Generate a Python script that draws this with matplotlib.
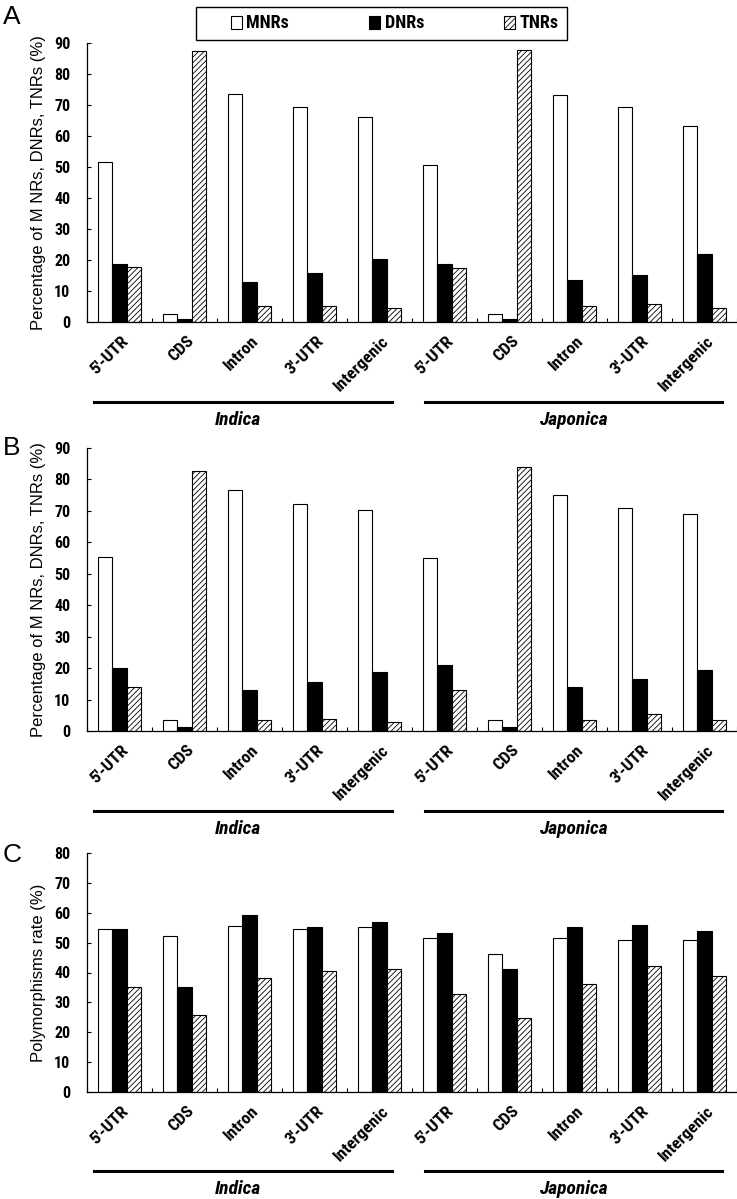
import matplotlib
matplotlib.use("Agg")
import matplotlib.pyplot as plt
import numpy as np
from matplotlib.patches import Patch, Rectangle
from matplotlib.lines import Line2D

plt.rcParams['hatch.linewidth'] = 0.6

categories = ["5'-UTR", "CDS", "Intron", "3'-UTR", "Intergenic"] * 2
groups = ["Indica", "Japonica"]
series = ["MNRs", "DNRs", "TNRs"]

a_mnr = [51.5, 2.7, 73.5, 69.4, 66.0, 50.6, 2.7, 73.1, 69.4, 63.2]
a_dnr = [18.8, 1.0, 13.0, 15.8, 20.2, 18.8, 1.0, 13.4, 15.2, 22.0]
a_tnr = [17.9, 87.4, 5.3, 5.3, 4.4, 17.5, 87.9, 5.3, 5.9, 4.4]

b_mnr = [55.4, 3.5, 76.6, 72.2, 70.4, 54.9, 3.5, 75.2, 70.9, 69.1]
b_dnr = [20.0, 1.4, 12.9, 15.5, 18.7, 20.9, 1.4, 13.9, 16.4, 19.5]
b_tnr = [13.9, 82.8, 3.5, 3.9, 3.0, 12.9, 84.1, 3.5, 5.3, 3.5]

c_mnr = [54.7, 52.2, 55.7, 54.7, 55.1, 51.5, 46.2, 51.5, 50.9, 50.9]
c_dnr = [54.7, 35.0, 59.4, 55.2, 57.0, 53.2, 41.1, 55.2, 56.0, 53.8]
c_tnr = [35.0, 25.7, 38.3, 40.6, 41.1, 32.8, 24.8, 36.0, 42.1, 38.8]

W, H = 737, 1199
fig = plt.figure(figsize=(W / 100, H / 100), dpi=100)

narrow = ['Roboto Condensed', 'PT Sans Narrow', 'DejaVu Sans']
regular = ['Liberation Sans', 'DejaVu Sans']


def ax_rect(top_px, bottom_px, left_px=87, right_px=737):
    return [left_px / W, 1 - bottom_px / H, (right_px - left_px) / W, (bottom_px - top_px) / H]


def draw_panel(rect, mnr, dnr, tnr, ymax, ylabel, letter, letter_y, line_y, label_y):
    ax = fig.add_axes(rect)
    n = len(categories)
    x = np.arange(n)
    bw = 0.225
    ax.bar(x + 0.5 - bw, mnr, bw, color='white', edgecolor='black', linewidth=0.8)
    ax.bar(x + 0.5, dnr, bw, color='black', edgecolor='black', linewidth=0.8)
    ax.bar(x + 0.5 + bw, tnr, bw, color='white', edgecolor='black', hatch='//////', linewidth=0.8)
    ax.set_xlim(0, n)
    ax.set_ylim(0, ymax)
    ax.set_yticks(np.arange(0, ymax + 1, 10))
    for lab in ax.get_yticklabels():
        lab.set_fontfamily(narrow)
        lab.set_fontweight('bold')
        lab.set_fontsize(11.5)
    ax.set_xticks(np.arange(0, n + 1))
    ax.set_xticklabels([])
    ax.tick_params(axis='x', direction='in', length=3, width=0.8)
    ax.tick_params(axis='y', direction='in', length=3, width=0.8, pad=12)
    ax.spines['top'].set_visible(False)
    ax.spines['right'].set_visible(False)
    ax.spines['left'].set_linewidth(0.9)
    ax.spines['bottom'].set_linewidth(0.9)
    ax.set_ylabel(ylabel, fontsize=12, family=regular, labelpad=6)
    for i, c in enumerate(categories):
        ax.annotate(c, xy=(i + 0.52, 0), xycoords=('data', 'axes fraction'),
                    xytext=(0, -8), textcoords='offset points',
                    rotation=45, ha='right', va='top', rotation_mode='anchor',
                    fontsize=12.5, fontweight='bold', family=narrow)
    ly = 1 - line_y / H
    ty = 1 - label_y / H
    fig.add_artist(Line2D([94 / W, 392 / W], [ly, ly], color='black', lw=2.2))
    fig.add_artist(Line2D([425 / W, 722 / W], [ly, ly], color='black', lw=2.2))
    fig.text(238 / W, ty, groups[0], ha='center', va='center', fontsize=14,
             fontweight='bold', fontstyle='italic', family=narrow)
    fig.text(574 / W, ty, groups[1], ha='center', va='center', fontsize=14,
             fontweight='bold', fontstyle='italic', family=narrow)
    fig.text(3 / W, 1 - letter_y / H, letter, ha='left', va='center', fontsize=19, family=regular)
    return ax


draw_panel(ax_rect(43, 322), a_mnr, a_dnr, a_tnr, 90,
           "Percentage of M NRs, DNRs, TNRs (%)", "A", 17, 402, 420)
draw_panel(ax_rect(448, 731), b_mnr, b_dnr, b_tnr, 90,
           "Percentage of M NRs, DNRs, TNRs (%)", "B", 448, 811, 829)
draw_panel(ax_rect(853, 1092), c_mnr, c_dnr, c_tnr, 80,
           "Polymorphisms rate (%)", "C", 855, 1171, 1189)

# legend frame
x0, x1 = 196 / W, 567 / W
y0, y1 = 1 - 40 / H, 1 - 7 / H
fig.add_artist(Rectangle((x0, y0), x1 - x0, y1 - y0, transform=fig.transFigure,
                         facecolor='white', edgecolor='black', linewidth=1.0))
handles = [Patch(facecolor='white', edgecolor='black', linewidth=0.8),
           Patch(facecolor='black', edgecolor='black', linewidth=0.8),
           Patch(facecolor='white', edgecolor='black', hatch='//////', linewidth=0.8)]
leg = fig.legend(handles, series, loc='center', ncol=3,
                 bbox_to_anchor=((x0 + x1) / 2 + 0.018, (y0 + y1) / 2),
                 frameon=False, handlelength=0.6, handleheight=0.7, handletextpad=0.25,
                 columnspacing=4.45, borderaxespad=0,
                 prop={'family': narrow, 'weight': 'bold', 'size': 13})

fig.savefig("out.png", dpi=100)
